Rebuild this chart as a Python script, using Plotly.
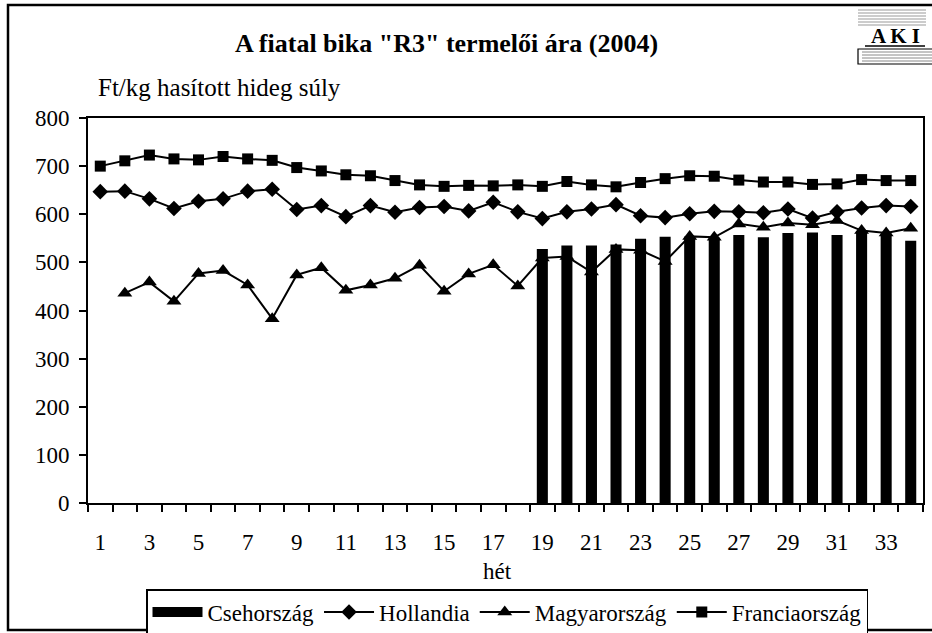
import plotly.graph_objects as go

weeks = list(range(1, 35))
tick_weeks = list(range(1, 34, 2))

cseh_weeks = list(range(19, 35))
csehorszag = [528, 535, 535, 537, 549, 553, 554, 551, 557, 552, 561, 562, 557, 565, 560, 545]

hollandia = [647, 648, 632, 612, 627, 632, 648, 652, 610, 618, 595,
             618, 604, 614, 616, 607, 625, 605, 591, 605, 611, 620, 597,
             593, 601, 606, 605, 603, 611, 592, 605, 613, 618, 616]

magyar_weeks = list(range(2, 35))
magyarorszag = [436, 459, 419, 477, 483, 453, 383, 474, 489, 442,
                453, 467, 494, 440, 476, 495, 451, 509, 512, 480, 527, 525,
                502, 554, 552, 580, 573, 582, 578, 587, 566, 561, 571]

franciaorszag = [700, 711, 723, 715, 713, 720, 715, 712, 697, 690, 682,
                 680, 670, 661, 658, 660, 659, 661, 658, 668, 661, 657, 666,
                 674, 680, 679, 671, 667, 667, 662, 663, 672, 670, 670]

W, H = 932, 633
L, R, T, B = 88, 923, 118, 503
FONT = "Times New Roman, Liberation Serif, DejaVu Serif, serif"


def px(x):
    return (x - L) / (R - L)


def py(y):
    return (B - y) / (B - T)


fig = go.Figure()
fig.add_trace(go.Bar(x=cseh_weeks, y=csehorszag, name="Csehország",
                     marker=dict(color="black", line=dict(width=0)), width=0.45,
                     legendgroup="cseh", showlegend=False))
# legend-only entry giving the wide black block symbol
fig.add_trace(go.Scatter(x=[None], y=[None], name="Csehország", mode="lines",
                         line=dict(color="black", width=14), legendgroup="cseh"))
fig.add_trace(go.Scatter(x=weeks, y=hollandia, name="Hollandia", mode="lines+markers",
                         line=dict(color="black", width=2),
                         marker=dict(symbol="diamond", size=12, color="black")))
fig.add_trace(go.Scatter(x=magyar_weeks, y=magyarorszag, name="Magyarország", mode="lines+markers",
                         line=dict(color="black", width=2),
                         marker=dict(symbol="triangle-up", size=13, color="black")))
fig.add_trace(go.Scatter(x=weeks, y=franciaorszag, name="Franciaország", mode="lines+markers",
                         line=dict(color="black", width=2),
                         marker=dict(symbol="square", size=11, color="black")))

shapes = []
# outer frame
shapes.append(dict(type="rect", xref="paper", yref="paper",
                   x0=px(8), x1=px(940), y0=py(630), y1=py(5),
                   line=dict(color="black", width=2.5), layer="below"))
# logo (book pages above, book below)
for yy in [10, 13, 16, 19, 22, 25]:
    shapes.append(dict(type="line", xref="paper", yref="paper",
                       x0=px(858), x1=px(926), y0=py(yy), y1=py(yy),
                       line=dict(color="#999999", width=1)))
shapes.append(dict(type="line", xref="paper", yref="paper",
                   x0=px(865), x1=px(925), y0=py(46), y1=py(46),
                   line=dict(color="black", width=1.5)))
for yy in [52, 55, 58, 61]:
    shapes.append(dict(type="line", xref="paper", yref="paper",
                       x0=px(862), x1=px(932), y0=py(yy), y1=py(yy),
                       line=dict(color="#888888", width=1)))
shapes.append(dict(type="rect", xref="paper", yref="paper",
                   x0=px(858), x1=px(940), y0=py(64), y1=py(49),
                   line=dict(color="black", width=1.2)))

annotations = [
    dict(text="<b>A fiatal bika \"R3\" termelői ára (2004)</b>", xref="paper", yref="paper",
         x=px(446), y=py(43), xanchor="center", yanchor="middle", showarrow=False,
         font=dict(family=FONT, size=26, color="black")),
    dict(text="Ft/kg hasított hideg súly", xref="paper", yref="paper",
         x=px(96), y=py(88), xanchor="left", yanchor="middle", showarrow=False,
         font=dict(family=FONT, size=25, color="black")),
    dict(text="hét", xref="paper", yref="paper",
         x=px(497), y=py(571), xanchor="center", yanchor="middle", showarrow=False,
         font=dict(family=FONT, size=23, color="black")),
    dict(text="<b>A K I</b>", xref="paper", yref="paper",
         x=px(895), y=py(36), xanchor="center", yanchor="middle", showarrow=False,
         font=dict(family=FONT, size=21, color="black")),
]

fig.update_layout(
    width=W, height=H,
    margin=dict(l=L, r=W - R, t=T, b=H - B, autoexpand=False),
    paper_bgcolor="white", plot_bgcolor="white",
    font=dict(family=FONT, size=23, color="black"),
    showlegend=True,
    legend=dict(orientation="h", x=px(507), y=py(589), xanchor="center", yanchor="top",
                bordercolor="black", borderwidth=1.5, bgcolor="white",
                font=dict(family=FONT, size=23, color="black"),
                itemwidth=50, traceorder="normal", tracegroupgap=0),
    shapes=shapes,
    annotations=annotations,
    xaxis=dict(range=[0.5, 34.5], tickmode="array", tickvals=tick_weeks,
               ticktext=[str(w) for w in tick_weeks],
               ticks="outside", ticklen=0, showgrid=False, zeroline=False,
               showline=True, linecolor="black", linewidth=2, mirror=True,
               ticklabelstandoff=17,
               tickfont=dict(family=FONT, size=23, color="black"),
               minor=dict(tickmode="linear", tick0=0.5, dtick=1, ticks="outside",
                          ticklen=7, tickwidth=1.5, tickcolor="black", showgrid=False)),
    yaxis=dict(range=[0, 800], tickmode="array", tickvals=list(range(0, 801, 100)),
               ticks="outside", ticklen=7, tickwidth=1.5, tickcolor="black",
               showgrid=False, zeroline=False,
               showline=True, linecolor="black", linewidth=2, mirror=True,
               ticklabelstandoff=5,
               tickfont=dict(family=FONT, size=23, color="black")),
    bargap=0.55,
)

fig.write_html("out.html", config={"displayModeBar": False},
               post_script="document.body.style.margin='0';")
